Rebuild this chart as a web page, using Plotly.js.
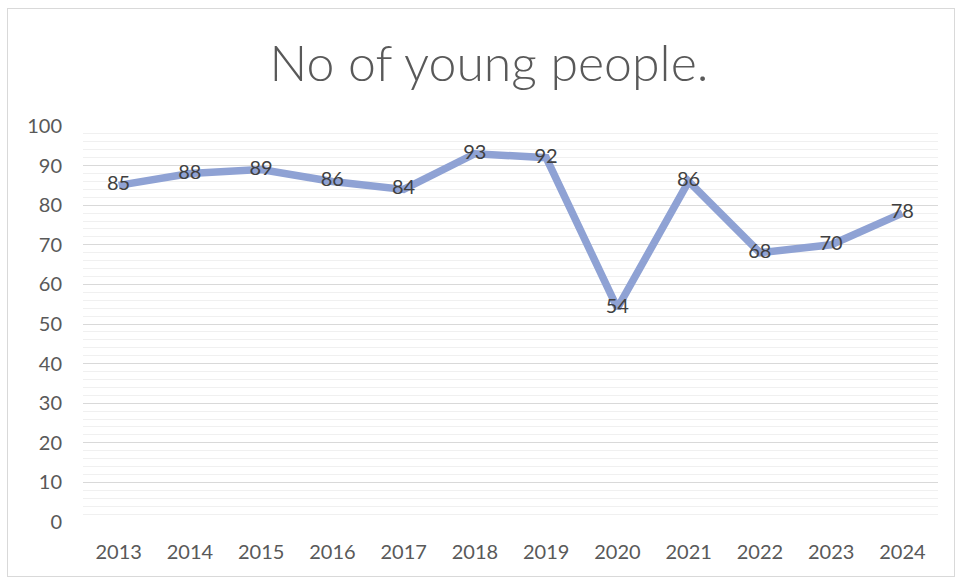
<!DOCTYPE html>
<html>
<head>
<meta charset="utf-8">
<script src="https://cdn.plot.ly/plotly-3.0.1.min.js"></script>
<style>
html,body{margin:0;padding:0;background:#fff;}
#chart{width:955px;height:578px;position:relative;}
#frame{position:absolute;left:7px;top:8px;width:946px;height:567px;border:1px solid #D9D9D9;pointer-events:none;}
</style>
</head>
<body>
<div id="chart"></div>
<div id="frame"></div>
<script>
const years = ['2013','2014','2015','2016','2017','2018','2019','2020','2021','2022','2023','2024'];
const youngPeople = [85, 88, 89, 86, 84, 93, 92, 54, 86, 68, 70, 78];
const yTicks = [0,10,20,30,40,50,60,70,80,90,100];

const trace = {
  x: years,
  y: youngPeople,
  type: 'scatter',
  mode: 'lines+text',
  text: youngPeople.map(String),
  textposition: 'middle center',
  textfont: {family: 'Lato, "Open Sans", sans-serif', size: 20, color: '#404040'},
  line: {color: '#8FA2D4', width: 7.5},
  hoverinfo: 'none',
  cliponaxis: false
};

const layout = {
  width: 955,
  height: 578,
  margin: {l: 83, r: 17, t: 126, b: 56},
  paper_bgcolor: '#ffffff',
  plot_bgcolor: '#ffffff',
  showlegend: false,
  font: {family: 'Lato, "Open Sans", sans-serif', color: '#595959'},
  title: {
    text: 'No of young people.',
    font: {family: 'Lato, "Open Sans", sans-serif', size: 50, weight: 300, color: '#595959'},
    x: 489/955, xanchor: 'center', xref: 'container',
    y: 1 - 63/578, yanchor: 'middle', yref: 'container'
  },
  xaxis: {
    type: 'category',
    range: [-0.5, 11.5],
    showgrid: false,
    zeroline: false,
    showline: false,
    ticks: '',
    ticklabelstandoff: 16,
    tickfont: {size: 20, color: '#595959'},
    fixedrange: true
  },
  yaxis: {
    range: [0, 100],
    tickvals: yTicks,
    ticktext: yTicks.map(String),
    showgrid: true,
    gridcolor: '#D9D9D9',
    gridwidth: 1,
    zeroline: false,
    showline: false,
    ticks: '',
    ticklabelstandoff: 20,
    tickfont: {size: 20, color: '#595959'},
    minor: {dtick: 2, showgrid: true, gridcolor: '#F0F0F0', gridwidth: 1},
    fixedrange: true
  }
};

Plotly.newPlot('chart', [trace], layout, {displayModeBar: false, staticPlot: true});
</script>
</body>
</html>
